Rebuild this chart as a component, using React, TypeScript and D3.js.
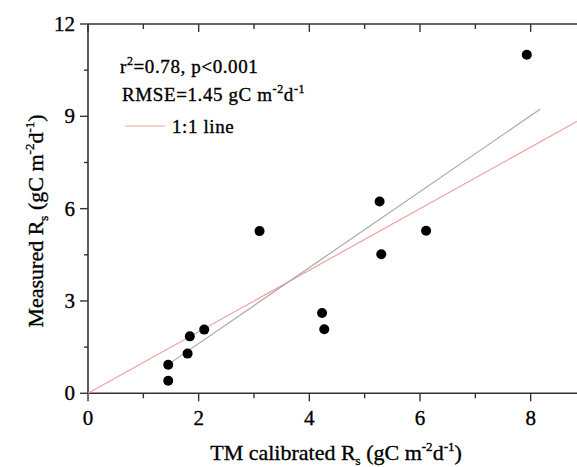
import * as d3 from "d3";
import React from "react";

// TM calibrated Rs vs measured Rs (gC m-2 d-1)
const modeled = [7.93, 3.1, 5.27, 6.11, 5.3, 4.23, 4.27, 1.45, 1.45, 1.8, 1.84, 2.1];
const measured = [11.0, 5.27, 6.23, 5.28, 4.52, 2.61, 2.08, 0.93, 0.41, 1.29, 1.85, 2.07];

// fitted regression line endpoints [x, y]
const fitLine = [[1.45, 0.94], [8.17, 9.23]];
const oneToOne = [[0, 0], [9, 9]];

const xMajor = [0, 2, 4, 6, 8];
const xMinor = [1, 3, 5, 7];
const yMajor = [0, 3, 6, 9, 12];
const yMinor = [1.5, 4.5, 7.5, 10.5];

const font = "'Liberation Serif', 'Times New Roman', serif";

export default function App() {
    const width = 577;
    const height = 467;
    const left = 88;
    const right = 586;
    const top = 24;
    const bottom = 393.3;

    const x = d3.scaleLinear().domain([0, 9]).range([left, right]);
    const y = d3.scaleLinear().domain([0, 12]).range([bottom, top]);

    const line = d3.line<number[]>()
        .x((d) => x(d[0]))
        .y((d) => y(d[1]));

    const axisColor = "#333";
    const ink = {stroke: "black", strokeWidth: 0.35};

    return (
        <svg width={width} height={height} style={{display: "block", position: "absolute", left: 0, top: 0}}>
            <rect width={width} height={height} fill="white" />
            {/* axes */}
            <line x1={left} x2={right} y1={bottom} y2={bottom} stroke={axisColor} strokeWidth={1.6} />
            <line x1={left} x2={right} y1={top} y2={top} stroke={axisColor} strokeWidth={1.6} />
            <line x1={left} x2={left} y1={top} y2={bottom} stroke={axisColor} strokeWidth={1.6} />
            {xMajor.map((t) => (
                <g key={`xm${t}`}>
                    <line x1={x(t)} x2={x(t)} y1={bottom} y2={bottom + 8} stroke={axisColor} strokeWidth={1.4} />
                    <line x1={x(t)} x2={x(t)} y1={top} y2={top + 8} stroke={axisColor} strokeWidth={1.4} />
                    <text x={x(t)} y={bottom + 32} textAnchor="middle" fontFamily={font} fontSize={21} {...ink}>{t}</text>
                </g>
            ))}
            {xMinor.map((t) => (
                <g key={`xn${t}`}>
                    <line x1={x(t)} x2={x(t)} y1={bottom} y2={bottom + 5} stroke={axisColor} strokeWidth={1.4} />
                    <line x1={x(t)} x2={x(t)} y1={top} y2={top + 5} stroke={axisColor} strokeWidth={1.4} />
                </g>
            ))}
            {yMajor.map((t) => (
                <g key={`ym${t}`}>
                    <line x1={left - 8} x2={left} y1={y(t)} y2={y(t)} stroke={axisColor} strokeWidth={1.4} />
                    <text x={75} y={y(t) + 7} textAnchor="end" fontFamily={font} fontSize={21} {...ink}>{t}</text>
                </g>
            ))}
            {yMinor.map((t) => (
                <line key={`yn${t}`} x1={left - 4} x2={left} y1={y(t)} y2={y(t)} stroke={axisColor} strokeWidth={1.4} />
            ))}

            {/* lines */}
            <path d={line(oneToOne) ?? ""} fill="none" stroke="#f0a0a0" strokeWidth={1.2} />
            <path d={line(fitLine) ?? ""} fill="none" stroke="#a8a8a8" strokeWidth={1.2} />

            {/* points */}
            {modeled.map((m, i) => (
                <circle key={i} cx={x(m)} cy={y(measured[i])} r={5} fill="black" />
            ))}

            {/* legend */}
            <g fontFamily={font} fontSize={19} letterSpacing={0.6} {...ink}>
                <text x={120} y={73}>
                    r<tspan dy={-8} fontSize={12}>2</tspan><tspan dy={8}>=0.78, p&lt;0.001</tspan>
                </text>
                <text x={122} y={101}>
                    RMSE=1.45 gC m<tspan dy={-8} fontSize={12}>-2</tspan><tspan dy={8}>d</tspan><tspan dy={-8} fontSize={12}>-1</tspan>
                </text>
                <line x1={125} x2={165} y1={126} y2={126} stroke="#f0a0a0" strokeWidth={1.2} />
                <text x={172} y={133}>1:1 line</text>
            </g>

            {/* axis titles */}
            <text x={336} y={460} textAnchor="middle" fontFamily={font} fontSize={22} {...ink}>
                TM calibrated R<tspan dy={5} fontSize={13}>s</tspan><tspan dy={-5}> (gC m</tspan><tspan dy={-9} fontSize={13}>-2</tspan><tspan dy={9}>d</tspan><tspan dy={-9} fontSize={13}>-1</tspan><tspan dy={9}>)</tspan>
            </text>
            <text transform="translate(43,221) rotate(-90)" textAnchor="middle" fontFamily={font} fontSize={22} {...ink}>
                Measured R<tspan dy={5} fontSize={13}>s</tspan><tspan dy={-5}> (gC m</tspan><tspan dy={-9} fontSize={13}>-2</tspan><tspan dy={9}>d</tspan><tspan dy={-9} fontSize={13}>-1</tspan><tspan dy={9}>)</tspan>
            </text>
        </svg>
    );
}
